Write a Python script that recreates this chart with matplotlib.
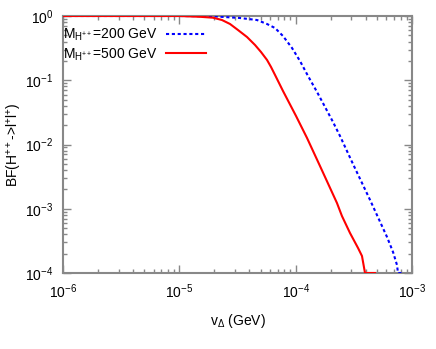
import matplotlib
matplotlib.use('Agg')
import matplotlib.pyplot as plt
from matplotlib.ticker import LogLocator, NullFormatter

# BF(H++ -> l+ l+) vs v_Delta
v_200 = [1e-6, 1e-5, 1.95e-5, 3.32e-5, 4.65e-5, 5.67e-5, 6.65e-5, 7.78e-5, 9.3e-5, 1.09e-4,
         1.277e-4, 1.526e-4, 1.788e-4, 2.094e-4, 2.405e-4, 3.11e-4, 4.36e-4, 6.1e-4, 6.87e-4,
         7.43e-4, 7.58e-4, 8.37e-4]
bf_200 = [1.0, 1.0, 0.989, 0.931, 0.866, 0.751, 0.65, 0.488, 0.318, 0.199,
          0.1165, 0.0657, 0.0384, 0.0224, 0.01356, 4.97e-3, 1.37e-3, 3.63e-4, 2.12e-4,
          1.33e-4, 1e-4, 1e-4]

v_500 = [1e-6, 1e-5, 1.506e-5, 1.948e-5, 2.326e-5, 2.727e-5, 3.194e-5, 3.817e-5, 4.472e-5,
         5.037e-5, 5.672e-5, 6.138e-5, 6.645e-5, 7.784e-5, 1.007e-4, 1.252e-4, 1.618e-4,
         2.264e-4, 2.5e-4, 2.93e-4, 3.436e-4, 3.715e-4, 3.945e-4, 4.81e-4]
bf_500 = [1.0, 1.0, 0.972, 0.941, 0.866, 0.751, 0.605, 0.471, 0.354,
          0.275, 0.207, 0.161, 0.121, 0.068, 0.0278, 0.01263, 4.63e-3,
          1.23e-3, 7.7e-4, 4.2e-4, 2.45e-4, 1.84e-4, 1e-4, 1e-4]

labels = [r'M$_{\mathregular{H^{++}}}$=200 GeV', r'M$_{\mathregular{H^{++}}}$=500 GeV']

plt.rcParams['font.family'] = ['Liberation Sans', 'DejaVu Sans']
plt.rcParams['mathtext.fontset'] = 'custom'
plt.rcParams['mathtext.rm'] = 'Liberation Sans'
plt.rcParams['mathtext.it'] = 'Liberation Sans:italic'
plt.rcParams['axes.unicode_minus'] = False

grey = '#888888'

fig = plt.figure(figsize=(4.36, 3.49), dpi=100)
ax = fig.add_axes([63 / 436, 1 - 273 / 349, (412 - 63) / 436, (273 - 16) / 349])

ax.plot(v_200, bf_200, color='#0000ff', lw=1.5, ls=(0, (1.5, 1.3)), label=labels[0], zorder=3)
ax.plot(v_500, bf_500, color='#ff0000', lw=1.5, label=labels[1], zorder=3)

ax.set_xscale('log')
ax.set_yscale('log')
ax.set_xlim(1e-6, 1e-3)
ax.set_ylim(1e-4, 1)

ax.xaxis.set_minor_locator(LogLocator(base=10, subs=range(2, 10)))
ax.yaxis.set_minor_locator(LogLocator(base=10, subs=range(2, 10)))
ax.xaxis.set_minor_formatter(NullFormatter())
ax.yaxis.set_minor_formatter(NullFormatter())

for s in ax.spines.values():
    s.set_color(grey)
    s.set_linewidth(1.5)
ax.tick_params(which='both', direction='in', top=True, right=True, color=grey,
               labelsize=10, labelcolor='black')
ax.tick_params(which='major', length=6, width=1, pad=7)
ax.tick_params(which='minor', length=3, width=1)

ax.set_xlabel(r'v$_{\Delta}$ (GeV)', fontsize=10, labelpad=8)
ax.set_ylabel(r'BF(H$^{++}$->l$^{+}$l$^{+}$)', fontsize=10, labelpad=1)

ax.legend(loc='upper left', bbox_to_anchor=(-0.02, 0.984), frameon=False,
          markerfirst=False, fontsize=10, handlelength=2.9, handletextpad=0.6,
          borderaxespad=0.2, borderpad=0.3, labelspacing=0.2)

fig.savefig('out.png', dpi=100)
